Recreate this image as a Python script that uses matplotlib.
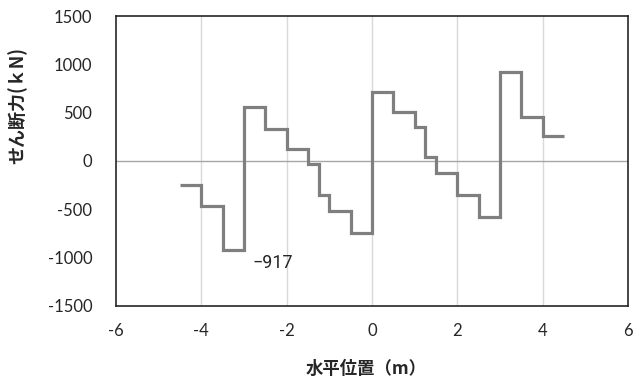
import matplotlib
matplotlib.use("Agg")
import matplotlib.pyplot as plt

plt.rcParams['font.family'] = ['Lato', 'Noto Sans CJK JP', 'DejaVu Sans']
plt.rcParams['axes.unicode_minus'] = False

# step boundaries (m) and shear force on each segment (kN)
edges = [-4.5, -4.0, -3.5, -3.0, -2.5, -2.0, -1.5, -1.25, -1.0, -0.5, 0.0,
         0.5, 1.0, 1.25, 1.5, 2.0, 2.5, 3.0, 3.5, 4.0, 4.5]
shear = [-250, -470, -917, 555, 335, 125, -35, -350, -520, -740,
         717, 510, 348, 40, -127, -350, -576, 924, 458, 260]

x_ticks = [-6, -4, -2, 0, 2, 4, 6]
y_ticks = [-1500, -1000, -500, 0, 500, 1000, 1500]

fig = plt.figure(figsize=(6.37, 3.82), dpi=100)
ax = fig.add_axes([0.1821, 0.199, 0.8038, 0.7591])

for xv in x_ticks[1:-1]:
    ax.axvline(xv, color='#d9d9d9', lw=1.0, zorder=1)
ax.axhline(0, color='#a6a6a6', lw=1.0, zorder=2)

ax.stairs(shear, edges, color='#7f7f7f', lw=2.3, baseline=None, zorder=3)

ax.text(-2.32, -1060, '\u2212917', fontsize=13, ha='center', va='center',
        family=['Roboto', 'DejaVu Sans'], color='#262626')

ax.set_xlim(-6, 6)
ax.set_ylim(-1500, 1500)
ax.set_xticks(x_ticks)
ax.set_yticks(y_ticks)
ax.tick_params(length=0, labelsize=12, colors='#262626', pad=12)
ax.tick_params(axis='y', pad=17)
for s in ax.spines.values():
    s.set_color('#262626')
    s.set_linewidth(1.2)

ax.set_xlabel('水平位置（m）', fontsize=12.5, fontweight='bold',
              family=['Noto Sans CJK JP'], color='#262626')
ax.xaxis.set_label_coords(0.488, -0.185)
ax.set_ylabel('せん断力(ｋN)', fontsize=13, fontweight='bold',
              family=['Noto Sans CJK JP'], color='#262626')
ax.yaxis.set_label_coords(-0.172, 0.69)

fig.savefig('out.png', dpi=100)
